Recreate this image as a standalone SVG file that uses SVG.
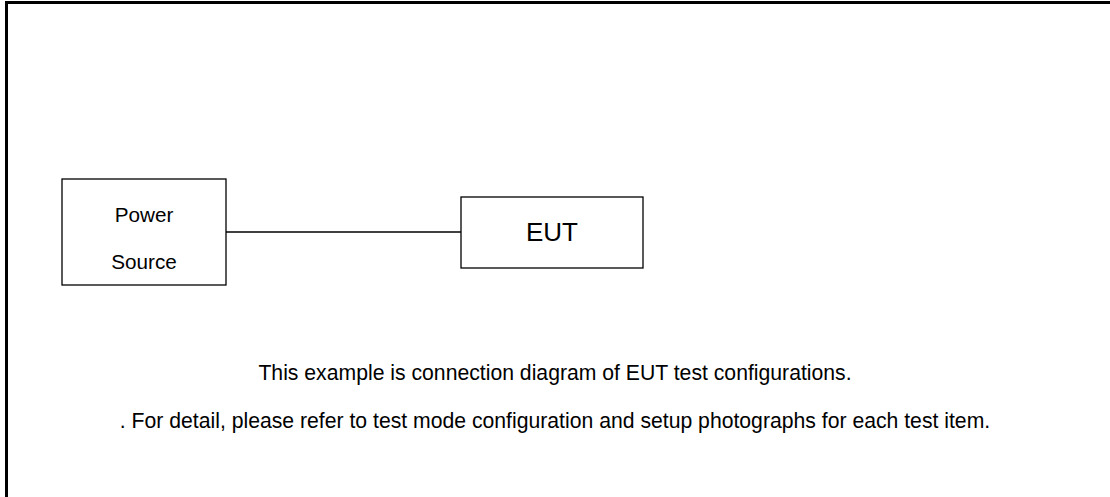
<svg xmlns="http://www.w3.org/2000/svg" width="1110" height="497" viewBox="0 0 1110 497">
<style>
.box{fill:#fff;stroke:#000;stroke-width:1.3}
.t{font-family:"Liberation Sans",Arial,sans-serif;fill:#000;text-anchor:middle}
</style>
<rect x="0" y="0" width="1110" height="497" fill="#fff"/>
<rect x="6.5" y="2.5" width="1120" height="510" fill="none" stroke="#000" stroke-width="3"/>
<g id="connectors">
<line x1="226" y1="232" x2="461" y2="232" stroke="#000" stroke-width="1.3"/>
</g>
<g id="power-source">
<rect class="box" x="62" y="179" width="164" height="106"/>
<text class="t" x="144" y="222" font-size="20.7">Power</text>
<text class="t" x="144" y="269" font-size="20.7">Source</text>
</g>
<g id="eut">
<rect class="box" x="461" y="197" width="182" height="71"/>
<text class="t" x="552" y="241" font-size="26">EUT</text>
</g>
<g id="notes">
<text class="t" x="555" y="380" font-size="21.2">This example is connection diagram of EUT test configurations.</text>
<text class="t" x="555" y="428" font-size="21.2">. For detail, please refer to test mode configuration and setup photographs for each test item.</text>
</g>
</svg>
